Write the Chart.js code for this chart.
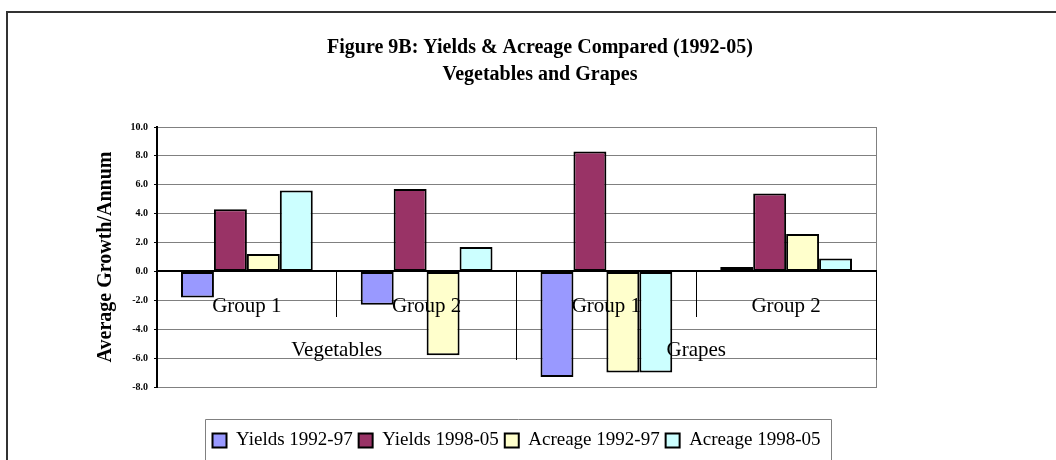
<!DOCTYPE html>
<html>
<head>
<meta charset="utf-8">
<script src="https://cdn.jsdelivr.net/npm/chart.js@4"></script>
<style>
  html, body { margin: 0; padding: 0; background: #ffffff; }
  #wrap { width: 1056px; height: 460px; position: relative; }
  canvas { display: block; }
</style>
</head>
<body>
<div id="wrap"><canvas id="c" width="1056" height="460"></canvas></div>
<script>
// ---- Data ----
const groupLabels = ['Group 1', 'Group 2', 'Group 1', 'Group 2'];
const cropLabels = ['Vegetables', 'Grapes'];
const seriesNames = ['Yields 1992-97', 'Yields 1998-05', 'Acreage 1992-97', 'Acreage 1998-05'];
const yields9297 = [-1.8, -2.3, -7.3, 0.3];
const yields9805 = [4.3, 5.7, 8.3, 5.4];
const acreage9297 = [1.2, -5.8, -7.0, 2.6];
const acreage9805 = [5.6, 1.7, -7.0, 0.9];
const yTickMin = -8.0;
const yTickMax = 10.0;
const yTickStep = 2.0;
const titleLines = ['Figure 9B: Yields & Acreage Compared (1992-05)', 'Vegetables and Grapes'];
const yAxisTitle = 'Average Growth/Annum';

// ---- Styling ----
const SERIF = "'Liberation Serif', 'DejaVu Serif', serif";
const seriesColors = ['#9999FF', '#993366', '#FFFFCC', '#CCFFFF'];
const seriesData = [yields9297, yields9805, acreage9297, acreage9805];

const framePlugin = {
  id: 'frame',
  beforeDraw(chart) {
    const ctx = chart.ctx;
    ctx.save();
    ctx.strokeStyle = '#333333';
    ctx.lineWidth = 2;
    ctx.strokeRect(7, 12, chart.width + 40, chart.height + 40);
    ctx.restore();
  },
  afterDraw(chart) {
    const lg = chart.legend;
    if (!lg || !lg.legendHitBoxes || !lg.legendHitBoxes.length) return;
    const boxes = lg.legendHitBoxes;
    const first = boxes[0];
    const last = boxes[boxes.length - 1];
    const ctx = chart.ctx;
    ctx.save();
    ctx.strokeStyle = '#808080';
    ctx.lineWidth = 1;
    const l = Math.round(first.left - 8) + 0.5;
    const r = Math.round(last.left + last.width + 11) + 0.5;
    const t = Math.round(first.top - 12) + 0.5;
    ctx.beginPath();
    ctx.moveTo(l, chart.height + 5);
    ctx.lineTo(l, t);
    ctx.lineTo(r, t);
    ctx.lineTo(r, chart.height + 5);
    ctx.stroke();
    ctx.restore();
  }
};

new Chart(document.getElementById('c'), {
  type: 'bar',
  data: {
    labels: groupLabels,
    datasets: seriesNames.map((name, i) => ({
      label: name,
      data: seriesData[i],
      backgroundColor: seriesColors[i],
      borderColor: '#000000',
      borderWidth: 2,
      borderSkipped: false,
      categoryPercentage: 0.733,
      barPercentage: 1.0
    }))
  },
  options: {
    responsive: false,
    animation: false,
    devicePixelRatio: 1,
    layout: { padding: { top: 20, left: 24, right: 0, bottom: 0 } },
    plugins: {
      tooltip: { enabled: false },
      title: {
        display: true,
        text: titleLines,
        color: '#000000',
        font: { family: SERIF, size: 20, weight: 'bold', lineHeight: '27px' },
        padding: { top: 14, bottom: 39 }
      },
      legend: {
        display: true,
        position: 'bottom',
        fullSize: false,
        labels: {
          color: '#000000',
          font: { family: SERIF, size: 19 },
          boxWidth: 14,
          boxHeight: 14,
          padding: 6
        }
      }
    },
    scales: {
      x: {
        type: 'category',
        position: { y: 0 },
        offset: true,
        grid: {
          display: true,
          offset: true,
          drawOnChartArea: false,
          drawTicks: true,
          tickLength: 45,
          tickColor: '#000000',
          tickWidth: 1,
          z: 1
        },
        border: { display: true, color: '#000000', width: 2, z: 1 },
        ticks: {
          color: '#000000',
          font: { family: SERIF, size: 21 },
          padding: -23,
          maxRotation: 0,
          autoSkip: false,
          z: 2
        }
      },
      x2: {
        type: 'category',
        labels: cropLabels,
        position: { y: 0 },
        offset: true,
        grid: {
          display: true,
          offset: true,
          drawOnChartArea: false,
          drawTicks: true,
          tickLength: 89,
          tickColor: '#000000',
          tickWidth: 1,
          z: 1
        },
        border: { display: false },
        ticks: {
          color: '#000000',
          font: { family: SERIF, size: 21 },
          padding: -23,
          maxRotation: 0,
          autoSkip: false,
          z: 2
        }
      },
      xb: {
        type: 'linear',
        position: 'bottom',
        display: true,
        grid: { display: false },
        border: { display: false },
        ticks: { display: false },
        afterFit(s) { s.height = 38; }
      },
      y: {
        type: 'linear',
        position: 'left',
        min: yTickMin,
        max: yTickMax,
        ticks: {
          stepSize: yTickStep,
          color: '#000000',
          font: { family: SERIF, size: 10, weight: 'bold' },
          padding: 6,
          callback: (v) => Number(v).toFixed(1)
        },
        grid: {
          color: '#808080',
          lineWidth: 1,
          drawTicks: true,
          tickLength: 3,
          tickColor: '#000000'
        },
        border: { display: true, color: '#000000', width: 2 },
        title: {
          display: true,
          text: yAxisTitle,
          color: '#000000',
          font: { family: SERIF, size: 20, weight: 'bold' },
          padding: { top: 70, bottom: 0 }
        },
        afterFit(s) { s.width = 133; }
      },
      yr: {
        type: 'linear',
        position: 'right',
        display: true,
        grid: { display: false },
        border: { display: true, color: '#808080', width: 1 },
        ticks: { display: false },
        afterFit(s) { s.width = 180; }
      }
    }
  },
  plugins: [framePlugin]
});
</script>
</body>
</html>
